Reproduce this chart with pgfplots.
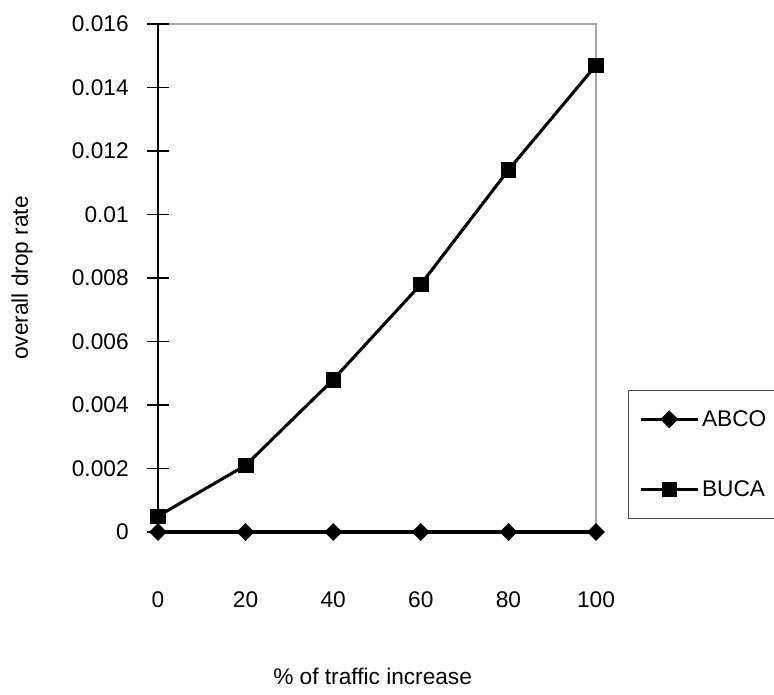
\documentclass[border=0pt]{standalone}
\usepackage{fontspec}
\setmainfont{Liberation Sans}
\usepackage{pgfplots}
\pgfplotsset{compat=1.18}
\begin{document}
\begin{tikzpicture}
\useasboundingbox (0,0) rectangle (580.5pt,520.5pt);
\begin{axis}[
  at={(118.5pt,121.5pt)}, anchor=south west,
  scale only axis, width=328.5pt, height=381pt,
  xmin=0, xmax=100, ymin=0, ymax=0.016,
  clip=false,
  axis y line*=left, axis x line*=bottom,
  x axis line style={draw=none},
  y axis line style={black, line width=1pt},
  axis background/.style={draw=black!35, line width=0.8pt},
  xtick={0,20,40,60,80,100},
  xtick style={draw=none},
  ytick={0,0.002,0.004,0.006,0.008,0.01,0.012,0.014,0.016},
  yticklabels={0,0.002,0.004,0.006,0.008,0.01,0.012,0.014,0.016},
  scaled y ticks=false,
  ytick style={black, line width=0.8pt},
  tick align=center, major tick length=17pt,
  /pgf/number format/assume math mode=true,
  tick label style={font=\fontsize{17}{20}\selectfont},
  yticklabel style={anchor=east, xshift=-10pt},
  xticklabel style={anchor=north, yshift=-33pt},
  xlabel={\% of traffic increase},
  ylabel={overall drop rate},
  label style={font=\fontsize{17}{20}\selectfont},
  xlabel style={at={(axis description cs:0.49,0)}, anchor=south, yshift=-118pt},
  ylabel style={at={(axis description cs:-0.3105,0.5)}, anchor=center},
  legend style={at={(1.073,0.2795)}, anchor=north west, draw=black!70, line width=0.6pt,
    font=\fontsize{17}{20}\selectfont, inner xsep=8pt, inner ysep=13pt, row sep=35pt,
    nodes={inner sep=2pt}, legend cell align=left},
  legend image code/.code={\draw[mark repeat=2,mark phase=2,#1] plot coordinates {(0pt,0pt) (21.5pt,0pt) (43pt,0pt)};},
]
\addplot[black, line width=2.3pt, mark=square*, mark size=4.5pt, mark options={rotate=45, solid, line width=0.4pt}]
  coordinates {(0,0) (20,0) (40,0) (60,0) (80,0) (100,0)};
\addlegendentry{ABCO}
\addplot[black, line width=2.3pt, mark=square*, mark size=5.5pt, mark options={solid, line width=0.4pt}]
  coordinates {(0,0.0005) (20,0.0021) (40,0.0048) (60,0.0078) (80,0.0114) (100,0.0147)};
\addlegendentry{BUCA}
\end{axis}
\end{tikzpicture}
\end{document}
